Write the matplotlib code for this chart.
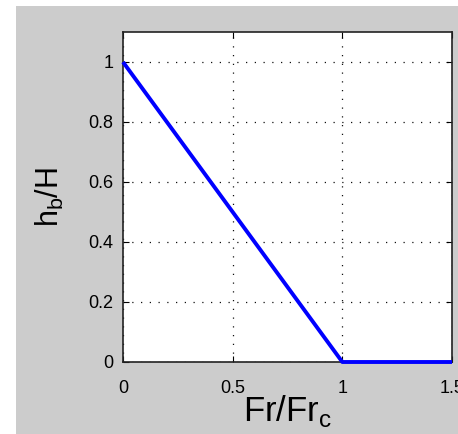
import matplotlib
matplotlib.use('Agg')
import matplotlib.pyplot as plt
from matplotlib.patches import Rectangle

# data
fr_ratio = [0, 1, 1.5]
hb_ratio = [1, 0, 0]
xticks = [0, 0.5, 1, 1.5]
xticklabels = ['0', '0.5', '1', '1.5']
yticks = [0, 0.2, 0.4, 0.6, 0.8, 1]
yticklabels = ['0', '0.2', '0.4', '0.6', '0.8', '1']

plt.rcParams['font.family'] = ['Liberation Sans', 'DejaVu Sans']
label_font = ['DejaVu Sans Condensed', 'Liberation Sans Narrow', 'Liberation Sans']

W, H = 458, 434
fig = plt.figure(figsize=(W / 100, H / 100), dpi=100, facecolor='white')
# matlab-ish gray figure area
fig.patches.append(Rectangle((16 / W, 0), 1 - 16 / W, (H - 6) / H,
                             transform=fig.transFigure, facecolor='#cccccc',
                             edgecolor='none', zorder=-10))

ax = fig.add_axes([123 / W, (H - 362) / H, (452 - 123) / W, (362 - 32) / H])
ax.set_zorder(5)
ax.plot(fr_ratio, hb_ratio, color='#0000ff', lw=2.8, solid_capstyle='butt', clip_on=False, zorder=3)

ax.set_xlim(0, 1.5)
ax.set_ylim(0, 1.1)
ax.set_xticks(xticks)
ax.set_xticklabels(xticklabels)
ax.set_yticks(yticks)
ax.set_yticklabels(yticklabels)
ax.tick_params(direction='in', length=4, width=0.8, top=True, right=True,
               labelsize=13)
ax.tick_params(axis='x', pad=13)
ax.tick_params(axis='y', pad=7)
ax.grid(True, color='#111111', linestyle=(0, (1, 6)), linewidth=0.9)
for s in ax.spines.values():
    s.set_linewidth(1.2)
    s.set_color('#222222')

ax.set_xlabel('Fr/Fr$_\\mathregular{c}$', fontsize=25, labelpad=-3, family=label_font)
ax.set_ylabel('h$_\\mathregular{b}$/H', fontsize=22, labelpad=16, family=label_font)

fig.savefig('out.png', dpi=100, facecolor='white')
